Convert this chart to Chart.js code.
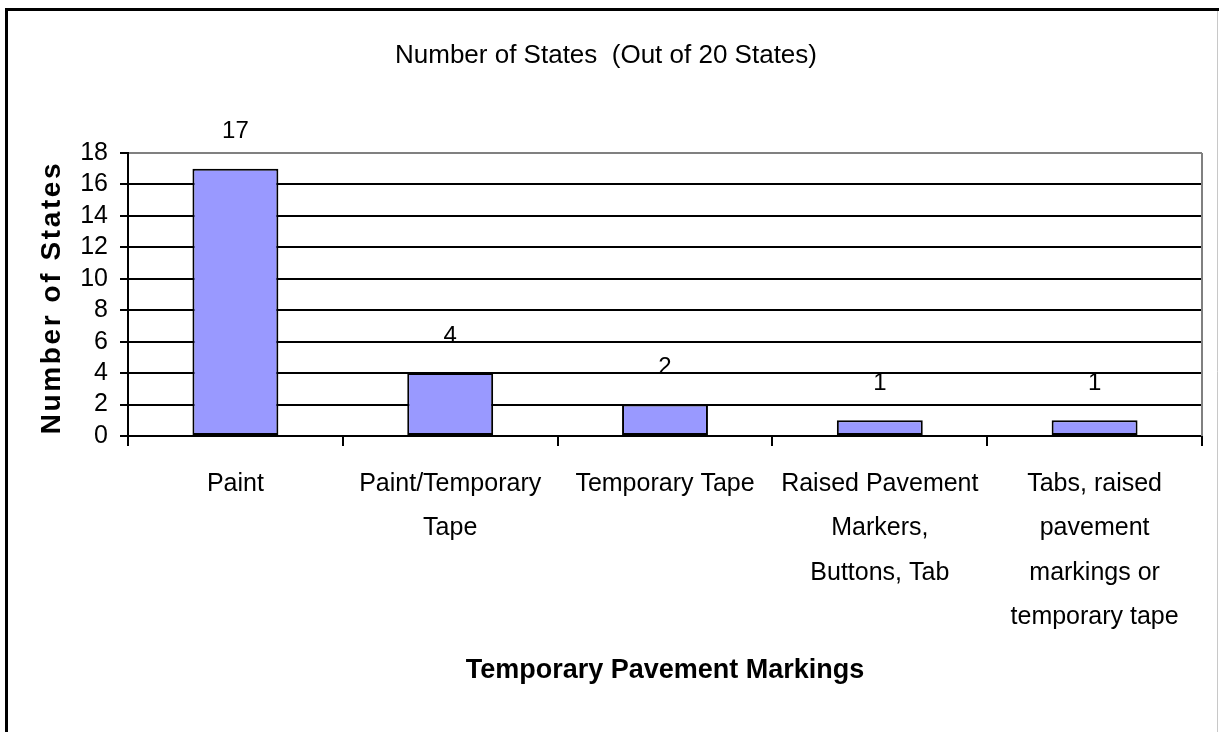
<!DOCTYPE html>
<html>
<head>
<meta charset="utf-8">
<script src="https://cdn.jsdelivr.net/npm/chart.js@4"></script>
<style>
  html, body { margin: 0; padding: 0; background: #fff; }
  #wrap { position: relative; width: 1219px; height: 732px; }
</style>
</head>
<body>
<div id="wrap"><canvas id="myChart" width="1219" height="732"></canvas></div>
<script>
// 图表数据
const categories = [
    'Paint',
    ['Paint/Temporary', 'Tape'],
    'Temporary Tape',
    ['Raised Pavement', 'Markers,', 'Buttons, Tab'],
    ['Tabs, raised', 'pavement', 'markings or', 'temporary tape']
];
const stateCounts = [17, 4, 2, 1, 1];
const yTicks = [0, 2, 4, 6, 8, 10, 12, 14, 16, 18];
const yTitle = 'Number of States';

const FONT = "'Liberation Sans', Arial, sans-serif";

// 外框、绘图区右边框和 Y 轴标题
const framePlugin = {
    id: 'frame',
    afterDraw(chart) {
        const ctx = chart.ctx;
        const a = chart.chartArea;
        ctx.save();
        // 绘图区右边框 (灰色)
        ctx.strokeStyle = '#808080';
        ctx.lineWidth = 2;
        ctx.beginPath();
        ctx.moveTo(a.right, a.top);
        ctx.lineTo(a.right, a.bottom);
        ctx.stroke();
        // 外框
        ctx.strokeStyle = '#000';
        ctx.lineWidth = 3;
        ctx.beginPath();
        ctx.moveTo(6.5, 732);
        ctx.lineTo(6.5, 9.5);
        ctx.lineTo(1219, 9.5);
        ctx.stroke();
        ctx.strokeStyle = '#c8c8c8';
        ctx.lineWidth = 1;
        ctx.beginPath();
        ctx.moveTo(1217.5, 11);
        ctx.lineTo(1217.5, 732);
        ctx.stroke();

        // Y 轴标题 (字距较宽)
        ctx.translate(52, (a.top + a.bottom) / 2 + 3);
        ctx.rotate(-Math.PI / 2);
        ctx.font = 'bold 28px ' + FONT;
        ctx.letterSpacing = '2.6px';
        ctx.fillStyle = '#000';
        ctx.textAlign = 'center';
        ctx.textBaseline = 'middle';
        ctx.fillText(yTitle, 0, 0);
        ctx.restore();
    }
};

// 柱子上方的数值
const valueLabels = {
    id: 'valueLabels',
    afterDatasetsDraw(chart) {
        const ctx = chart.ctx;
        const meta = chart.getDatasetMeta(0);
        ctx.save();
        ctx.font = '24px ' + FONT;
        ctx.fillStyle = '#000';
        ctx.textAlign = 'center';
        ctx.textBaseline = 'middle';
        meta.data.forEach((bar, i) => {
            ctx.fillText(String(stateCounts[i]), bar.x, bar.y - 37);
        });
        ctx.restore();
    }
};

const ctx = document.getElementById('myChart').getContext('2d');
window.myChart = new Chart(ctx, {
    type: 'bar',
    data: {
        labels: categories,
        datasets: [{
            label: 'Number of States',
            data: stateCounts,
            backgroundColor: '#9999ff',
            borderColor: '#000',
            borderWidth: 2,
            borderSkipped: false,
            barPercentage: 0.4,
            categoryPercentage: 1.0
        }]
    },
    options: {
        responsive: false,
        animation: false,
        layout: {
            padding: { left: 10, right: 17, top: 0, bottom: 0 }
        },
        plugins: {
            legend: { display: false },
            tooltip: { enabled: false },
            title: {
                display: true,
                text: 'Number of States  (Out of 20 States)',
                color: '#000',
                font: { family: FONT, size: 26, weight: 'normal' },
                padding: { top: 40, bottom: 81.8 }
            }
        },
        scales: {
            x: {
                offset: true,
                grid: {
                    drawOnChartArea: false,
                    drawTicks: true,
                    tickLength: 10,
                    color: '#000',
                    lineWidth: 2,
                    offset: true
                },
                border: { color: '#000', width: 2 },
                ticks: {
                    color: '#000',
                    maxRotation: 0,
                    autoSkip: false,
                    padding: 16,
                    font: { family: FONT, size: 25, lineHeight: 1.77 }
                },
                title: {
                    display: true,
                    text: 'Temporary Pavement Markings',
                    color: '#000',
                    font: { family: FONT, size: 27, weight: 'bold' },
                    padding: { top: 0, bottom: 45 }
                },
                afterFit(scale) { scale.height = 296; }
            },
            y: {
                min: 0,
                max: 18,
                afterBuildTicks(scale) {
                    scale.ticks = yTicks.map(v => ({ value: v }));
                },
                grid: {
                    color: ctx => (ctx.tick && ctx.tick.value === 18) ? '#808080' : '#000',
                    tickColor: '#000',
                    lineWidth: 2,
                    tickLength: 8
                },
                border: { color: '#000', width: 2 },
                ticks: {
                    color: '#000',
                    autoSkip: false,
                    padding: 12,
                    font: { family: FONT, size: 25 }
                },
                title: { display: false },
                afterFit(scale) { scale.width = 118; }
            }
        }
    },
    plugins: [framePlugin, valueLabels]
});
</script>
</body>
</html>
